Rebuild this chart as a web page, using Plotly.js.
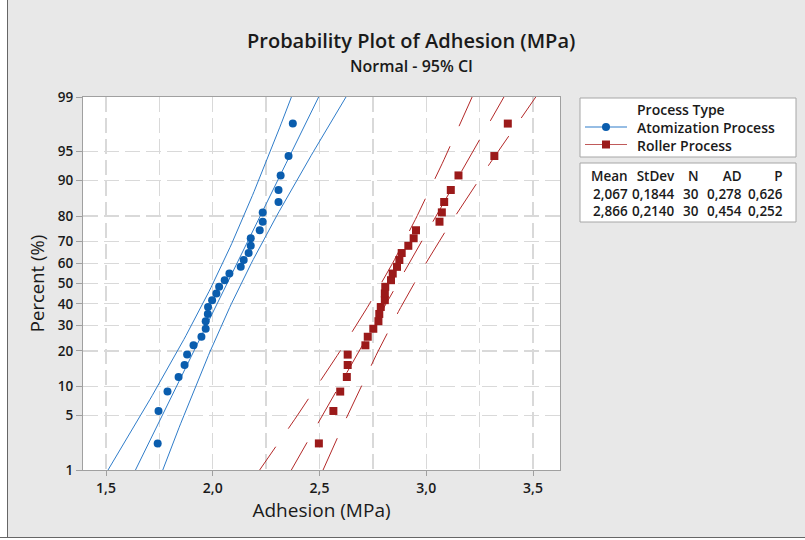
<!DOCTYPE html>
<html><head><meta charset="utf-8">
<script src="https://cdn.plot.ly/plotly-3.0.1.min.js"></script>
<style>
body{margin:0;background:#fff}
#wrap{position:relative;width:805px;height:540px;overflow:hidden}
#plot{width:805px;height:540px}
.bl{position:absolute;left:0;top:0;width:7px;height:540px;background:#fff;border-right:1px solid #666}
.bb{position:absolute;left:0;top:537px;width:805px;height:3px;background:#fff;border-top:1px solid #666}
</style></head>
<body><div id="wrap"><div id="plot"></div><div class="bl"></div><div class="bb"></div></div>
<script>
// ---- data ----
const percentPositions = [2.303,5.592,8.882,12.171,15.461,18.750,22.039,25.329,28.618,31.908,
  35.197,38.487,41.776,45.066,48.355,51.645,54.934,58.224,61.513,64.803,
  68.092,71.382,74.671,77.961,81.250,84.539,87.829,91.118,94.408,97.697];
const atomization = [1.742,1.746,1.788,1.840,1.868,1.880,1.910,1.947,1.967,1.967,
  1.977,1.978,1.997,2.017,2.030,2.056,2.078,2.131,2.145,2.168,
  2.178,2.178,2.220,2.234,2.234,2.308,2.308,2.318,2.355,2.375];
const roller = [2.497,2.565,2.597,2.628,2.632,2.632,2.715,2.726,2.752,2.776,
  2.780,2.787,2.806,2.806,2.808,2.835,2.843,2.863,2.874,2.885,
  2.916,2.941,2.952,3.062,3.073,3.084,3.115,3.151,3.319,3.382];
const seriesNames = ['Atomization Process','Roller Process'];
const legendTitle = 'Process Type';
const means = [2.067, 2.866];
const stdevs = [0.1844, 0.2140];
const ns = [30, 30];
const ads = [0.278, 0.454];
const ps = [0.626, 0.252];
const statHeaders = ['Mean','StDev','N','AD','P'];
const yTickPercents = [1,5,10,20,30,40,50,60,70,80,90,95,99];
const xTickVals = [1.5,2.0,2.5,3.0,3.5];
const xTickText = ['1,5','2,0','2,5','3,0','3,5'];
const xGridVals = [1.5,1.75,2.0,2.25,2.5,2.75,3.0,3.25,3.5];

// ---- styles ----
const blueLine = '#2f7cc9', blueMark = '#0a5dae';
const redLine = '#b32828', redMark = '#9b1a1a';
const FONT = 'Open Sans, Noto Sans, sans-serif';
const TXT = '#1a1a1a';

// inverse normal CDF (Acklam) for the probability scale
function norminv(p){
  const a=[-3.969683028665376e+01,2.209460984245205e+02,-2.759285104469687e+02,1.383577518672690e+02,-3.066479806614716e+01,2.506628277459239e+00];
  const b=[-5.447609879822406e+01,1.615858368580409e+02,-1.556989798598866e+02,6.680131188771972e+01,-1.328068155288572e+01];
  const c=[-7.784894002430293e-03,-3.223964580411365e-01,-2.400758277161838e+00,-2.549732539343734e+00,4.374664141464968e+00,2.938163982698783e+00];
  const d=[7.784695709041462e-03,3.224671290700398e-01,2.445134137142996e+00,3.754408661907416e+00];
  const pl=0.02425, ph=1-pl; let q,r;
  if(p<pl){q=Math.sqrt(-2*Math.log(p));return (((((c[0]*q+c[1])*q+c[2])*q+c[3])*q+c[4])*q+c[5])/((((d[0]*q+d[1])*q+d[2])*q+d[3])*q+1);}
  if(p>ph){q=Math.sqrt(-2*Math.log(1-p));return -(((((c[0]*q+c[1])*q+c[2])*q+c[3])*q+c[4])*q+c[5])/((((d[0]*q+d[1])*q+d[2])*q+d[3])*q+1);}
  q=p-0.5;r=q*q;return (((((a[0]*r+a[1])*r+a[2])*r+a[3])*r+a[4])*r+a[5])*q/(((((b[0]*r+b[1])*r+b[2])*r+b[3])*r+b[4])*r+1);
}
const zPts = percentPositions.map(p=>norminv(p/100));
const zTop = norminv(0.99);

// fitted line and 95% CI from the shown mean / stdev
function fitCurves(m,s,n){
  const zs=[],fit=[],lo=[],hi=[];
  for(let k=0;k<=120;k++){
    const z=-3+k*0.05; zs.push(z);
    const se=s*Math.sqrt(1/n+z*z/(2*n));
    fit.push(m+s*z); lo.push(m+s*z-1.96*se); hi.push(m+s*z+1.96*se);
  }
  return {zs,fit,lo,hi};
}
const traces=[];
traces.push({x:[xGridVals[0]],y:[0],xaxis:'x2',yaxis:'y',mode:'markers',marker:{opacity:0},hoverinfo:'skip',showlegend:false});
const dataSets=[atomization,roller];
[0,1].forEach(i=>{
  const fc=fitCurves(means[i],stdevs[i],ns[i]);
  const lc = i===0?blueLine:redLine;
  const dash = i===0?'solid':'36px,22px';
  [fc.lo,fc.fit,fc.hi].forEach(xs=>{
    traces.push({x:xs,y:fc.zs,mode:'lines',type:'scatter',showlegend:false,hoverinfo:'skip',
      line:{color:lc,width:1,dash:dash}});
  });
});
[0,1].forEach(i=>{
  traces.push({x:dataSets[i],y:zPts,mode:'markers',type:'scatter',name:seriesNames[i],showlegend:false,
    marker:{symbol:i===0?'circle':'square',size:8,color:i===0?blueMark:redMark}});
});

// geometry helpers (pixel -> paper)
const L=83,R=560,T=97,B=470;
const px=x=>(x-L)/(R-L), py=y=>(B-y)/(B-T);

const shapes=[
  {type:'rect',xref:'paper',yref:'paper',x0:px(580),x1:px(796),y0:py(98),y1:py(157),line:{color:'#a6a6a6',width:1},fillcolor:'#fff'},
  {type:'rect',xref:'paper',yref:'paper',x0:px(580),x1:px(796),y0:py(163),y1:py(222),line:{color:'#a6a6a6',width:1},fillcolor:'#fff'},
  {type:'line',xref:'paper',yref:'paper',x0:px(585),x1:px(627),y0:py(127),y1:py(127),line:{color:blueLine,width:1.2}},
  {type:'circle',xref:'paper',yref:'paper',x0:px(602),x1:px(610),y0:py(131),y1:py(123),line:{width:0},fillcolor:blueMark},
  {type:'line',xref:'paper',yref:'paper',x0:px(585),x1:px(627),y0:py(144.5),y1:py(144.5),line:{color:'#c05a5a',width:1.2}},
  {type:'rect',xref:'paper',yref:'paper',x0:px(602),x1:px(610),y0:py(148.5),y1:py(140.5),line:{width:0},fillcolor:redMark}
];

const ann=[];
function A(text,x,y,size,anchor,weight,align){ann.push({text:text,xref:'paper',yref:'paper',x:px(x),y:py(y),xanchor:anchor||'center',yanchor:'middle',align:align||'center',borderpad:0,showarrow:false,font:{family:FONT,size:size,color:TXT,weight:weight||400}});}
A('Probability Plot of Adhesion (MPa)',411,41,20,'center',600);
A('Normal - 95% CI',411,65.5,16,'center',600);
A([legendTitle].concat(seriesNames).join('<br>'),636,127,14,'left',600,'left');
const fmt=(v,d)=>v.toFixed(d).replace('.',',');
const colRight=[628,675,699,742,783];
const colVals=[
  means.map(v=>fmt(v,3)), stdevs.map(v=>fmt(v,4)), ns.map(String), ads.map(v=>fmt(v,3)), ps.map(v=>fmt(v,3))];
statHeaders.forEach((h,ci)=>A([h].concat(colVals[ci]).join('<br>'),colRight[ci]+1,193,13.5,'right',600,'right'));

const xr=[1.5-(106-L)/213.5,1.5+(R-106)/213.5];
const layout={
  width:805,height:540,
  margin:{l:L,r:805-R,t:T,b:540-B},
  paper_bgcolor:'#e8e8e8',plot_bgcolor:'#ffffff',
  showlegend:false,
  xaxis:{range:xr,tickmode:'array',tickvals:xTickVals,ticktext:xTickText,
    showgrid:false,zeroline:false,showline:true,linecolor:'#a0a0a0',linewidth:1,mirror:true,
    ticks:'outside',ticklen:5,tickcolor:'#a0a0a0',
    tickfont:{family:FONT,size:14,color:TXT,weight:600},
    title:{text:'Adhesion (MPa)',font:{family:FONT,size:19,color:TXT},standoff:4}},
  xaxis2:{overlaying:'x',matches:'x',range:xr,tickmode:'array',tickvals:xGridVals,showticklabels:false,ticks:'',
    showgrid:true,gridcolor:'#d9d9d9',gridwidth:1.3,griddash:'15px,6px',zeroline:false,showline:false,side:'bottom'},
  yaxis:{range:[-zTop,zTop],tickmode:'array',tickvals:yTickPercents.map(p=>norminv(p/100)),ticktext:yTickPercents.map(String),
    showgrid:true,gridcolor:'#d9d9d9',gridwidth:1.3,griddash:'15px,6px',
    zeroline:false,showline:true,linecolor:'#a0a0a0',linewidth:1,mirror:true,
    ticks:'outside',ticklen:6,tickcolor:'#a0a0a0',
    tickfont:{family:FONT,size:13.5,color:TXT,weight:600},
    title:{text:'Percent (%)',font:{family:FONT,size:18.5,color:TXT},standoff:8}},
  shapes:shapes,annotations:ann
};
Plotly.newPlot('plot',traces,layout,{displayModeBar:false,staticPlot:true});
</script></body></html>
